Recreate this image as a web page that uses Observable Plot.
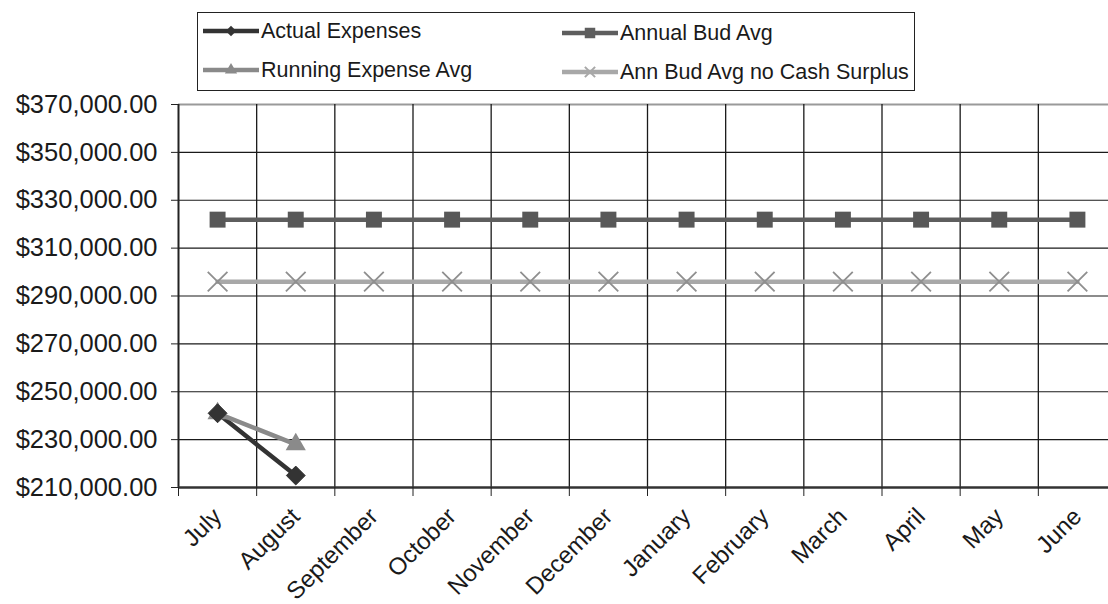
<!DOCTYPE html>
<html>
<head>
<meta charset="utf-8">
<script src="https://cdn.jsdelivr.net/npm/d3@7"></script>
<script src="https://cdn.jsdelivr.net/npm/@observablehq/plot@0.6"></script>
<style>
  html, body { margin: 0; padding: 0; background: #fff; }
  body { width: 1108px; height: 604px; position: relative; overflow: hidden; font-family: "Liberation Sans", Arial, sans-serif; }
  #chart { position: absolute; left: 0; top: 0; }
  #legend { position: absolute; left: 197px; top: 12px; width: 718px; height: 79px; border: 1.5px solid #222; box-sizing: border-box; }
  .item { position: absolute; display: flex; align-items: center; font-size: 21.5px; color: #1a1a1a; white-space: nowrap; }
  .item svg { margin-right: 2px; }
</style>
</head>
<body>
<div id="chart"></div>
<div id="legend"></div>
<script>
const months = ["July","August","September","October","November","December","January","February","March","April","May","June"];
const seriesNames = ["Actual Expenses","Annual Bud Avg","Running Expense Avg","Ann Bud Avg no Cash Surplus"];
const actualExpenses = [241000, 215000];
const runningExpenseAvg = [241000, 228000];
const annualBudAvg = [321900, 321900, 321900, 321900, 321900, 321900, 321900, 321900, 321900, 321900, 321900, 321900];
const annBudNoSurplus = [296000, 296000, 296000, 296000, 296000, 296000, 296000, 296000, 296000, 296000, 296000, 296000];
const yTicks = [210000, 230000, 250000, 270000, 290000, 310000, 330000, 350000, 370000];

const seriesStyle = {
  "Actual Expenses": {stroke: "#333333", fill: "#333333", symbol: "diamond2"},
  "Annual Bud Avg": {stroke: "#5e5e5e", fill: "#5e5e5e", symbol: "square"},
  "Running Expense Avg": {stroke: "#8a8a8a", fill: "#8a8a8a", symbol: "triangle"},
  "Ann Bud Avg no Cash Surplus": {stroke: "#a8a8a8", fill: "none", symbol: "times"}
};

const seriesValues = {
  "Actual Expenses": actualExpenses,
  "Annual Bud Avg": annualBudAvg,
  "Running Expense Avg": runningExpenseAvg,
  "Ann Bud Avg no Cash Surplus": annBudNoSurplus
};

const rows = seriesNames.flatMap(s => seriesValues[s].map((v, i) => ({series: s, month: months[i], pos: i + 0.5, value: v})));
const of = s => rows.filter(d => d.series === s);

const centers = months.map((m, i) => i + 0.5);
const bounds = d3.range(months.length + 1);

const chart = Plot.plot({
  width: 1108,
  height: 604,
  marginTop: 104,
  marginBottom: 117,
  marginLeft: 178,
  marginRight: 0,
  style: {fontFamily: "'Liberation Sans', Arial, sans-serif", color: "#1a1a1a", background: "white", overflow: "visible"},
  x: {domain: [0, months.length], range: [178, 1116]},
  y: {domain: [210000, 370000]},
  marks: [
    Plot.ruleY(yTicks.slice(0, -1), {stroke: "#1a1a1a", strokeWidth: 1.2}),
    Plot.ruleY([370000], {stroke: "#9a9a9a", strokeWidth: 2}),
    Plot.ruleX(bounds.slice(1), {stroke: "#1a1a1a", strokeWidth: 1.3}),
    Plot.ruleX([0], {stroke: "#222", strokeWidth: 2}),
    Plot.ruleY([210000], {stroke: "#333", strokeWidth: 2.5}),
    Plot.axisY({ticks: yTicks, tickFormat: d3.format("$,.2f"), tickSize: 7, tickPadding: 14, fontSize: 25.5, stroke: "#222", label: null}),
    Plot.axisX({ticks: bounds, tickFormat: () => "", tickSize: 9, stroke: "#222", label: null}),
    Plot.axisX({ticks: centers, tickFormat: v => months[Math.floor(v)], tickSize: 0, tickPadding: 25, tickRotate: -45, fontSize: 24, label: null}),
    ...seriesNames.map(s => Plot.line(of(s), {x: "pos", y: "value", stroke: seriesStyle[s].stroke, strokeWidth: 4.5})),
    Plot.dot(of("Annual Bud Avg"), {x: "pos", y: "value", symbol: "square", r: 9, fill: "#585858"}),
    Plot.dot(of("Ann Bud Avg no Cash Surplus"), {x: "pos", y: "value", symbol: "times", r: 9, stroke: "#8f8f8f", strokeWidth: 1.8}),
    Plot.dot(of("Running Expense Avg"), {x: "pos", y: "value", symbol: "triangle", r: 7.5, fill: "#8a8a8a"}),
    Plot.dot(of("Actual Expenses"), {x: "pos", y: "value", symbol: "diamond2", r: 8.5, fill: "#333333", stroke: "#333", strokeWidth: 1})
  ]
});
document.getElementById("chart").appendChild(chart);

// Legend (HTML)
const legendPos = [
  {s: "Actual Expenses", left: 5, top: 3},
  {s: "Annual Bud Avg", left: 364, top: 5},
  {s: "Running Expense Avg", left: 5, top: 42},
  {s: "Ann Bud Avg no Cash Surplus", left: 364, top: 44}
];
const legend = document.getElementById("legend");
const symPath = {
  "diamond2": d3.symbol(d3.symbolDiamond2, 70)(),
  "square": d3.symbol(d3.symbolSquare, 110)(),
  "triangle": d3.symbol(d3.symbolTriangle, 65)(),
  "times": d3.symbol(d3.symbolTimes, 70)()
};
for (const p of legendPos) {
  const st = seriesStyle[p.s];
  const div = document.createElement("div");
  div.className = "item";
  div.style.left = p.left + "px";
  div.style.top = p.top + "px";
  const sw = `<svg width="56" height="30" viewBox="0 0 56 30">
    <line x1="0" y1="15" x2="56" y2="15" stroke="${st.stroke}" stroke-width="4.5"/>
    <path d="${symPath[st.symbol]}" transform="translate(28,15)" fill="${st.fill === 'none' ? 'none' : st.fill}" stroke="${st.stroke}" stroke-width="${st.symbol === 'times' ? 2 : 0}"/>
  </svg>`;
  div.innerHTML = sw + `<span>${p.s}</span>`;
  legend.appendChild(div);
}
</script>
</body>
</html>
